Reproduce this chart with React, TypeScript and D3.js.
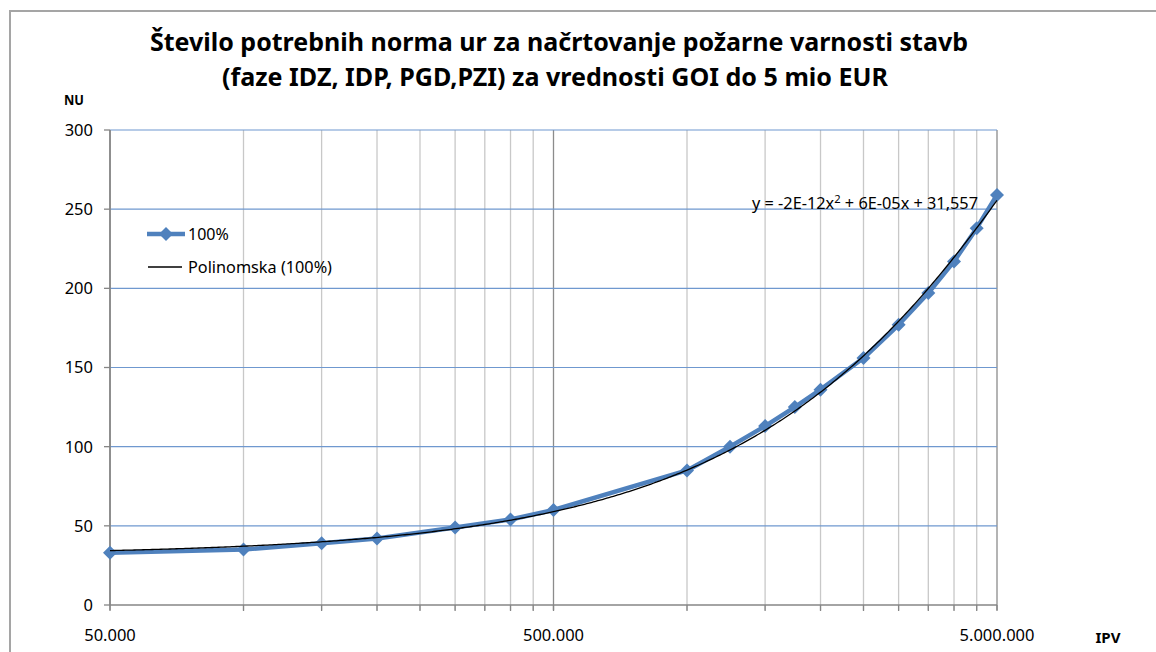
import React from "react";
import * as d3 from "d3";

const titleLines = [
  "Število potrebnih norma ur za načrtovanje požarne varnosti stavb",
  "(faze IDZ, IDP, PGD,PZI) za vrednosti GOI do 5 mio EUR",
];
const ipv = [50000, 100000, 150000, 200000, 300000, 400000, 500000, 1000000, 1250000, 1500000, 1750000, 2000000, 2500000, 3000000, 3500000, 4000000, 4500000, 5000000];
const nu = [33, 35, 39, 42, 49, 54, 60, 85, 100, 113, 125, 136, 156, 177, 197, 217, 238, 259];
const yTicks = [0, 50, 100, 150, 200, 250, 300];
const xLabelTicks = [50000, 500000, 5000000];
const seriesName = "100%";
const trendName = "Polinomska (100%)";
const equation = "y = -2E-12x";
const equationRest = " + 6E-05x + 31,557";

// least squares quadratic fit (trendline)
function polyFit(xs: number[], ys: number[]) {
  const n = xs.length;
  let s0 = n, s1 = 0, s2 = 0, s3 = 0, s4 = 0, t0 = 0, t1 = 0, t2 = 0;
  for (let i = 0; i < n; i++) {
    const x = xs[i] / 1e6, y = ys[i];
    s1 += x; s2 += x * x; s3 += x ** 3; s4 += x ** 4;
    t0 += y; t1 += x * y; t2 += x * x * y;
  }
  const M = [
    [s0, s1, s2, t0],
    [s1, s2, s3, t1],
    [s2, s3, s4, t2],
  ];
  for (let c = 0; c < 3; c++) {
    for (let r = c + 1; r < 3; r++) {
      const f = M[r][c] / M[c][c];
      for (let k = c; k < 4; k++) M[r][k] -= f * M[c][k];
    }
  }
  const sol = [0, 0, 0];
  for (let r = 2; r >= 0; r--) {
    let s = M[r][3];
    for (let k = r + 1; k < 3; k++) s -= M[r][k] * sol[k];
    sol[r] = s / M[r][r];
  }
  return (x: number) => sol[0] + sol[1] * (x / 1e6) + sol[2] * (x / 1e6) ** 2;
}

const fmt = (v: number) => d3.format(",")(v).replace(/,/g, ".");

export default function App() {
  const W = 1156, H = 652;
  const left = 110, right = 997, top = 130, bottom = 605;
  const x = d3.scaleLog().domain([50000, 5000000]).range([left, right]);
  const y = d3.scaleLinear().domain([0, 300]).range([bottom, top]);

  const grid: number[] = [];
  [50000, 500000].forEach((b) => {
    for (let k = 1; k <= 10; k++) grid.push(b * k);
  });
  const gridU = Array.from(new Set(grid));
  const isMajor = (v: number) => v === 50000 || v === 500000 || v === 5000000;

  const fit = polyFit(ipv, nu);
  const trendX = d3.range(0, 401).map((i) => x.invert(left + ((right - left) * i) / 400));
  const trendLine = d3.line<number>().x((d) => x(d)).y((d) => y(fit(d)));
  const dataLine = d3.line<number>().x((_, i) => x(ipv[i])).y((d) => y(d));

  const blue = "#4F81BD";
  const diamond = (cx: number, cy: number, r = 7) =>
    `M${cx},${cy - r}L${cx + r},${cy}L${cx},${cy + r}L${cx - r},${cy}Z`;
  const font = "'Noto Sans', 'Open Sans', sans-serif";

  return (
    <svg width={W} height={H} style={{ position: "absolute", left: 0, top: 0, background: "#fff" }} fontFamily={font}>
      <rect x={10} y={11} width={1200} height={700} fill="#fff" stroke="#a5a5a5" strokeWidth={2} />
      {/* title */}
      <text x={559} y={51} textAnchor="middle" fontSize={25} fontWeight="bold" textLength={818} lengthAdjust="spacingAndGlyphs" fill="#000">{titleLines[0]}</text>
      <text x={555} y={86} textAnchor="middle" fontSize={25} fontWeight="bold" textLength={666} lengthAdjust="spacingAndGlyphs" fill="#000">{titleLines[1]}</text>
      <text x={74} y={105} textAnchor="middle" fontSize={14} fontWeight="bold" textLength={20} lengthAdjust="spacingAndGlyphs" fill="#000">NU</text>
      <text x={1108} y={643} textAnchor="middle" fontSize={14} fontWeight="bold" textLength={25} lengthAdjust="spacingAndGlyphs" fill="#000">IPV</text>

      {/* vertical gridlines */}
      {gridU.map((v) => (
        <line key={"v" + v} x1={x(v)} x2={x(v)} y1={top} y2={bottom + 5} stroke={isMajor(v) ? "#8c8c8c" : "#c8c8c8"} strokeWidth={1.3} />
      ))}
      {/* horizontal gridlines */}
      {yTicks.filter((t) => t > 0).map((t) => (
        <line key={"h" + t} x1={left} x2={right} y1={y(t)} y2={y(t)} stroke="#6f98cf" strokeWidth={1.2} />
      ))}
      {/* axes */}
      <line x1={left} x2={left} y1={top} y2={bottom} stroke="#868686" strokeWidth={1.6} />
      <line x1={left} x2={right} y1={bottom} y2={bottom} stroke="#868686" strokeWidth={1.6} />
      {yTicks.map((t) => (
        <g key={"yt" + t}>
          <line x1={left - 6} x2={left} y1={y(t)} y2={y(t)} stroke="#868686" strokeWidth={1.3} />
          <text x={93} y={y(t)} dy="0.36em" textAnchor="end" fontSize={16.5} fill="#000">{t}</text>
        </g>
      ))}
      {gridU.map((v) => (
        <line key={"xt" + v} x1={x(v)} x2={x(v)} y1={bottom} y2={bottom + 6} stroke="#868686" strokeWidth={1.3} />
      ))}
      {xLabelTicks.map((v) => (
        <text key={"xl" + v} x={x(v)} y={641} textAnchor="middle" fontSize={16.5} fill="#000">{fmt(v)}</text>
      ))}

      {/* data series */}
      <path d={dataLine(nu) || ""} fill="none" stroke={blue} strokeWidth={4.5} strokeLinejoin="round" />
      {nu.map((d, i) => (
        <path key={"m" + i} d={diamond(x(ipv[i]), y(d))} fill={blue} />
      ))}
      {/* trendline */}
      <path d={trendLine(trendX) || ""} fill="none" stroke="#000" strokeWidth={1.3} />

      {/* equation */}
      <text x={752} y={209} fontSize={16} fill="#000" textLength={226} lengthAdjust="spacingAndGlyphs">
        {equation}
        <tspan dy={-6} fontSize={11}>2</tspan>
        <tspan dy={6}>{equationRest}</tspan>
      </text>

      {/* legend */}
      <line x1={147} x2={185} y1={234} y2={234} stroke={blue} strokeWidth={4.5} />
      <path d={diamond(166, 234)} fill={blue} />
      <text x={188} y={240} fontSize={16} fill="#000">{seriesName}</text>
      <line x1={148} x2={182} y1={267} y2={267} stroke="#000" strokeWidth={1.3} />
      <text x={188} y={273} fontSize={16} fill="#000" textLength={144} lengthAdjust="spacingAndGlyphs">{trendName}</text>
    </svg>
  );
}
